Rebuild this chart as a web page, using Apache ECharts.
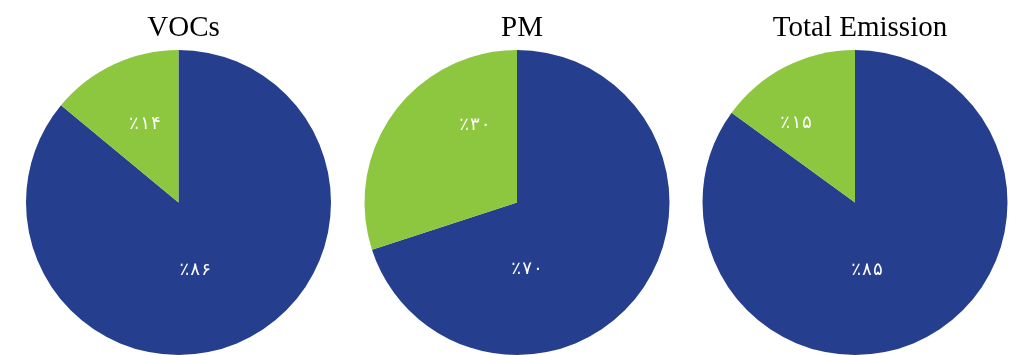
<!DOCTYPE html>
<html>
<head>
<meta charset="utf-8">
<script src="https://cdn.jsdelivr.net/npm/echarts@6/dist/echarts.min.js"></script>
<style>
  html, body { margin: 0; padding: 0; background: #fff; }
  #main { width: 1018px; height: 355px; }
</style>
</head>
<body>
<div id="main"></div>
<script>
// pie names and shares (blue = main part, green = rest)
var pieTitles = ["VOCs", "PM", "Total Emission"];
var blueShare = [86, 70, 85];
var greenShare = [14, 30, 15];

var centersX = [178.5, 517, 855];
// label nudges to match the reference placement
var blueOffset = [[-17, -4], [-54, 20], [-24, -3]];
var greenOffset = [[0, -6], [22, -31], [-23, -9]];

var BLUE = "#253F8E";
var GREEN = "#8DC63F";

// persian digits + arabic percent sign
function faPercent(v) {
  var d = "۰۱۲۳۴۵۶۷۸۹";
  return "٪" + String(v).replace(/[0-9]/g, function (c) { return d[+c]; });
}

var chart = echarts.init(document.getElementById("main"));

var titles = pieTitles.map(function (t, i) {
  return {
    text: t,
    left: centersX[i],
    top: 9,
    textAlign: "center",
    textStyle: {
      fontFamily: "Liberation Serif",
      fontWeight: "normal",
      fontSize: 29,
      color: "#000"
    }
  };
});

var series = pieTitles.map(function (t, i) {
  return {
    name: t,
    type: "pie",
    center: [centersX[i], 202.5],
    radius: 152.5,
    startAngle: 90,
    clockwise: true,
    silent: true,
    label: {
      position: "inside",
      color: "#fff",
      fontFamily: "DejaVu Sans Mono",
      fontSize: 18,
      formatter: function (p) { return faPercent(p.value); }
    },
    labelLine: { show: false },
    itemStyle: { borderWidth: 0 },
    data: [
      { name: "a", value: blueShare[i], itemStyle: { color: BLUE }, label: { offset: blueOffset[i] } },
      { name: "b", value: greenShare[i], itemStyle: { color: GREEN }, label: { offset: greenOffset[i] } }
    ]
  };
});

chart.setOption({
  animation: false,
  title: titles,
  series: series
});
</script>
</body>
</html>
